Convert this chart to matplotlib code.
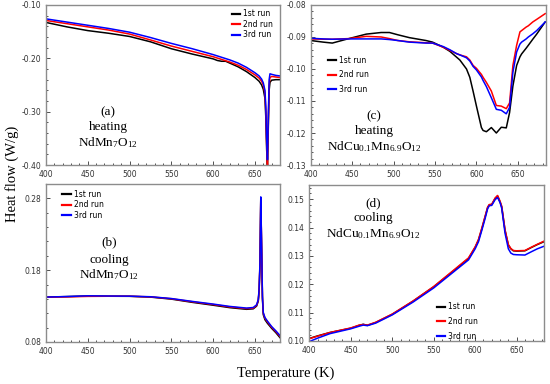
import matplotlib
matplotlib.use("Agg")
import matplotlib.pyplot as plt
from matplotlib.ticker import AutoMinorLocator, FormatStrFormatter, MultipleLocator

plt.rcParams['axes.unicode_minus'] = False
plt.rcParams['mathtext.fontset'] = 'custom'
plt.rcParams['mathtext.rm'] = 'Liberation Serif'
plt.rcParams['mathtext.it'] = 'Liberation Serif:italic'

# --- data ---
# (a) heating NdMn7O12
a_T = [400, 425, 450, 475, 500, 525, 550, 575, 600, 605, 610, 615, 620, 630, 640,
       650, 655, 658, 660, 662, 663, 664, 665, 666, 667, 668, 670, 675, 680]
a_run1 = [-0.1327, -0.141, -0.148, -0.153, -0.159, -0.169, -0.182, -0.192, -0.201, -0.204,
          -0.2055, -0.2055, -0.209, -0.216, -0.225, -0.236, -0.243, -0.250, -0.258, -0.275,
          -0.31, -0.37, -0.405, -0.33, -0.26, -0.245, -0.241, -0.240, -0.240]
a_run2 = [-0.129, -0.135, -0.141, -0.147, -0.1545, -0.1655, -0.177, -0.187, -0.197, -0.1995,
          -0.202, -0.2045, -0.207, -0.213, -0.221, -0.231, -0.237, -0.243, -0.250, -0.265,
          -0.30, -0.36, -0.40, -0.32, -0.25, -0.236, -0.234, -0.235, -0.236]
a_run3 = [-0.126, -0.132, -0.138, -0.144, -0.151, -0.161, -0.172, -0.182, -0.193, -0.1955,
          -0.198, -0.2005, -0.203, -0.209, -0.217, -0.227, -0.233, -0.239, -0.246, -0.26,
          -0.29, -0.35, -0.39, -0.31, -0.24, -0.229, -0.230, -0.232, -0.233]

# (b) cooling NdMn7O12
b_T = [400, 425, 450, 475, 500, 525, 550, 575, 600, 620, 640, 648, 652, 654, 655,
       656, 657, 658, 659, 660, 662, 665, 670, 675, 680]
b_run1 = [0.1425, 0.1432, 0.1440, 0.1437, 0.1436, 0.1425, 0.1397, 0.1352, 0.1312, 0.1278,
          0.1255, 0.1262, 0.1300, 0.1370, 0.150, 0.185, 0.279, 0.210, 0.140, 0.118,
          0.111, 0.106, 0.099, 0.093, 0.086]
b_run2 = [0.1423, 0.1428, 0.1435, 0.1437, 0.1437, 0.1428, 0.1402, 0.1360, 0.1322, 0.1288,
          0.1265, 0.1272, 0.1310, 0.1380, 0.152, 0.188, 0.280, 0.212, 0.142, 0.120,
          0.113, 0.108, 0.1005, 0.0945, 0.088]
b_run3 = [0.1425, 0.1433, 0.1443, 0.1440, 0.1438, 0.1430, 0.1405, 0.1365, 0.1328, 0.1295,
          0.1272, 0.1280, 0.1318, 0.1390, 0.154, 0.190, 0.282, 0.214, 0.144, 0.121,
          0.114, 0.109, 0.1015, 0.0955, 0.089]

# (c) heating NdCu0.1Mn6.9O12
c_T = [400, 415, 426, 446, 467, 485, 495, 505, 519, 539, 547, 560, 568, 576, 580, 588,
       592, 596, 600, 606, 608, 612, 618, 624, 630, 636, 640, 644, 648.5, 652.5, 654.5,
       660, 662.6, 668, 672.7, 683]
c_run1 = [-0.0911, -0.0916, -0.0919, -0.0905, -0.0891, -0.0886, -0.0886, -0.0893, -0.0902,
          -0.0911, -0.0916, -0.0932, -0.0945, -0.0963, -0.0972, -0.1000, -0.1026, -0.1070,
          -0.1116, -0.1183, -0.1192, -0.1196, -0.1183, -0.1200, -0.1182, -0.1184, -0.1136,
          -0.1053, -0.0989, -0.0962, -0.0953, -0.0935, -0.0926, -0.0907, -0.0891, -0.0853]
c_run2 = [-0.0906, -0.0907, -0.0907, -0.0905, -0.0898, -0.0900, -0.0905, -0.0911, -0.0915,
          -0.0918, -0.0919, -0.0932, -0.0942, -0.0952, -0.0956, -0.0962, -0.0972, -0.0989,
          -0.0998, -0.1017, -0.1026, -0.1042, -0.1069, -0.1114, -0.1116, -0.1124, -0.1106,
          -0.0989, -0.0926, -0.0884, -0.0880, -0.0869, -0.0865, -0.0853, -0.0845, -0.0827]
c_run3 = [-0.0904, -0.0906, -0.0907, -0.0906, -0.0906, -0.0906, -0.0908, -0.0911, -0.0916,
          -0.0919, -0.0919, -0.0930, -0.0940, -0.0952, -0.0956, -0.0965, -0.0975, -0.0992,
          -0.1003, -0.1025, -0.1036, -0.1055, -0.1090, -0.1126, -0.1129, -0.1140, -0.1120,
          -0.1010, -0.0947, -0.0922, -0.0916, -0.0906, -0.0900, -0.0890, -0.0880, -0.0853]

# (d) cooling NdCu0.1Mn6.9O12
d_T = [400, 410, 425, 450, 460, 465, 470, 480, 500, 525, 550, 575, 592, 600, 604, 608,
       612, 615, 617, 620, 624, 627, 630, 632, 636, 640, 643, 646, 650, 660, 668, 675, 683]
d_run1 = [0.1009, 0.1018, 0.1030, 0.1045, 0.1055, 0.1059, 0.1055, 0.1065, 0.1094, 0.1140,
          0.1191, 0.1250, 0.1291, 0.1330, 0.1356, 0.1395, 0.1438, 0.1470, 0.1480, 0.1481,
          0.1502, 0.1511, 0.1490, 0.1473, 0.1390, 0.1338, 0.1325, 0.1318, 0.1317, 0.1318,
          0.1330, 0.1340, 0.1350]
d_run2 = [0.1008, 0.1017, 0.1030, 0.1046, 0.1056, 0.1058, 0.1056, 0.1066, 0.1095, 0.1141,
          0.1192, 0.1252, 0.1293, 0.1332, 0.1358, 0.1398, 0.1440, 0.1472, 0.1481, 0.1482,
          0.1504, 0.1513, 0.1493, 0.1475, 0.1392, 0.1340, 0.1326, 0.1319, 0.1318, 0.1319,
          0.1331, 0.1341, 0.1352]
d_run3 = [0.0998, 0.1010, 0.1026, 0.1043, 0.1052, 0.1056, 0.1054, 0.1063, 0.1092, 0.1137,
          0.1187, 0.1246, 0.1286, 0.1325, 0.1350, 0.1390, 0.1432, 0.1466, 0.1477, 0.1478,
          0.1498, 0.1506, 0.1488, 0.1468, 0.1380, 0.1325, 0.1310, 0.1305, 0.1304, 0.1303,
          0.1315, 0.1325, 0.1334]

run_labels = ['1st run', '2nd run', '3rd run']
run_colors = ['black', 'red', 'blue']

SERIF = 'Liberation Serif'


def style_axes(ax, xlim, ylim, yticks):
    ax.set_xlim(*xlim)
    ax.set_ylim(*ylim)
    ax.set_xticks([400, 450, 500, 550, 600, 650])
    ax.set_yticks(yticks)
    ax.xaxis.set_minor_locator(MultipleLocator(10))
    ax.yaxis.set_minor_locator(AutoMinorLocator(5))
    ax.yaxis.set_major_formatter(FormatStrFormatter('%.2f'))
    ax.tick_params(which='both', direction='in', top=False, right=False,
                   labelsize=5.5, colors='#333333', width=0.6)
    ax.tick_params(which='major', length=3, pad=3.5)
    ax.tick_params(which='minor', length=1.5)
    for s in ax.spines.values():
        s.set_color('#8c8c8c')
        s.set_linewidth(1.0)


def draw_panel(ax, T, runs):
    for y, c, lab in zip(runs, run_colors, run_labels):
        ax.plot(T, y, color=c, lw=1.1, label=lab)


def add_legend(fig, ax, anchor, spacing):
    leg = ax.legend(loc='upper left', bbox_to_anchor=anchor, bbox_transform=fig.transFigure,
                    frameon=False, fontsize=5.5, handlelength=1.1, handletextpad=0.4,
                    labelspacing=spacing, borderpad=0, borderaxespad=0)
    for h in leg.get_lines():
        h.set_linewidth(1.6)


def add_note(fig, x, ys, lines):
    for y, s in zip(ys, lines):
        fig.text(x, y, s, ha='center', va='center', fontsize=9.5, family=SERIF)


fig = plt.figure(figsize=(5.5, 3.84), dpi=100)

ax_a = fig.add_axes([0.0836, 0.5703, 0.4255, 0.4167])
ax_c = fig.add_axes([0.5650, 0.5703, 0.4278, 0.4167])
ax_b = fig.add_axes([0.0836, 0.1094, 0.4255, 0.4115])
ax_d = fig.add_axes([0.5624, 0.1120, 0.4267, 0.4063])

draw_panel(ax_a, a_T, [a_run1, a_run2, a_run3])
style_axes(ax_a, (400, 680), (-0.40, -0.10), [-0.40, -0.30, -0.20, -0.10])
add_legend(fig, ax_a, (0.4218, 0.976), 0.2)

draw_panel(ax_b, b_T, [b_run1, b_run2, b_run3])
style_axes(ax_b, (400, 680), (0.08, 0.30), [0.08, 0.18, 0.28])
add_legend(fig, ax_b, (0.113, 0.506), 0.2)

draw_panel(ax_c, c_T, [c_run1, c_run2, c_run3])
style_axes(ax_c, (400, 684), (-0.13, -0.08), [-0.13, -0.12, -0.11, -0.10, -0.09, -0.08])
add_legend(fig, ax_c, (0.596, 0.855), 0.75)

draw_panel(ax_d, d_T, [d_run1, d_run2, d_run3])
style_axes(ax_d, (400, 683), (0.10, 0.155), [0.10, 0.11, 0.12, 0.13, 0.14, 0.15])
add_legend(fig, ax_d, (0.794, 0.213), 0.75)

# panel captions
add_note(fig, 0.1964, [0.7083, 0.6693, 0.6276], ['(a)', 'heating', 'NdMn$_7$O$_{12}$'])
add_note(fig, 0.1982, [0.3698, 0.3229, 0.2839], ['(b)', 'cooling', 'NdMn$_7$O$_{12}$'])
add_note(fig, 0.6800, [0.6979, 0.6589, 0.6172],
         ['(c)', 'heating', 'NdCu$_{0.1}$Mn$_{6.9}$O$_{12}$'])
add_note(fig, 0.6782, [0.4714, 0.4323, 0.3906],
         ['(d)', 'cooling', 'NdCu$_{0.1}$Mn$_{6.9}$O$_{12}$'])

fig.text(0.021, 0.548, 'Heat flow (W/g)', rotation=90, ha='center', va='center',
         fontsize=10.5, family=SERIF)
fig.text(0.52, 0.029, 'Temperature (K)', ha='center', va='center',
         fontsize=10.5, family=SERIF)

fig.savefig('out.png', dpi=100)
